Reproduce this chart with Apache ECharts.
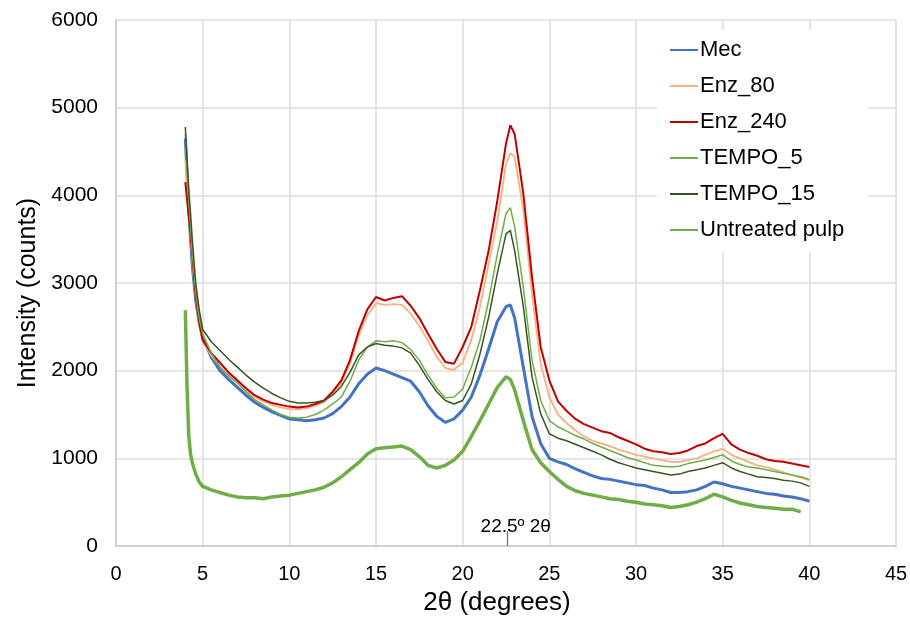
<!DOCTYPE html>
<html>
<head>
<meta charset="utf-8">
<script src="https://cdn.jsdelivr.net/npm/echarts@6/dist/echarts.min.js"></script>
<style>
  html, body { margin: 0; padding: 0; background: #fff; }
  #chart { width: 910px; height: 619px; }
</style>
</head>
<body>
<div id="chart"></div>
<script>
// 2θ positions (degrees)
var angles = [4.0, 4.1, 4.2, 4.3, 4.4, 4.6, 4.8,
  5.0, 5.5, 6.0, 6.5, 7.0, 7.5, 8.0, 8.5, 9.0, 9.5, 10.0, 10.5, 11.0, 11.5, 12.0, 12.5,
  13.0, 13.5, 14.0, 14.5, 15.0, 15.5, 16.0, 16.5, 17.0, 17.5, 18.0, 18.5, 19.0, 19.5,
  20.0, 20.5, 21.0, 21.5, 22.0, 22.5, 22.75, 23.0, 23.5, 24.0, 24.5, 25.0, 25.5, 26.0,
  26.5, 27.0, 27.5, 28.0, 28.5, 29.0, 29.5, 30.0, 30.5, 31.0, 31.5, 32.0, 32.5, 33.0,
  33.5, 34.0, 34.5, 35.0, 35.5, 36.0, 36.5, 37.0, 37.5, 38.0, 38.5, 39.0, 39.5, 40.0];

var mec = [4650, 4250, 3850, 3500, 3200, 2800, 2550,
  2380, 2150, 2000, 1900, 1810, 1720, 1640, 1580, 1530, 1490, 1450, 1440, 1430, 1440, 1460, 1510,
  1590, 1700, 1850, 1960, 2030, 2000, 1960, 1920, 1880, 1760, 1600, 1480, 1410, 1450,
  1550, 1700, 1950, 2250, 2560, 2730, 2750, 2600, 2040, 1480, 1170, 1000, 960, 930,
  880, 840, 800, 770, 760, 740, 720, 700, 690, 660, 640, 610, 610, 620,
  640, 680, 730, 710, 680, 660, 640, 620, 600, 590, 570, 560, 540, 510];

var enz80 = [4400, 4100, 3800, 3500, 3250, 2820, 2530,
  2330, 2170, 2050, 1950, 1860, 1770, 1700, 1650, 1610, 1580, 1560, 1560, 1570, 1600, 1640, 1730,
  1860, 2080, 2400, 2630, 2770, 2750, 2760, 2750, 2650, 2510, 2340, 2160, 2030, 2010,
  2090, 2350, 2730, 3220, 3710, 4360, 4480, 4440, 3830, 2880, 2080, 1700, 1500, 1400,
  1320, 1250, 1200, 1170, 1140, 1100, 1070, 1040, 1020, 1000, 980, 960, 960, 980,
  1000, 1040, 1080, 1110, 1040, 1000, 960, 920, 900, 870, 840, 810, 780, 750];

var enz240 = [4150, 3950, 3750, 3560, 3320, 2850, 2550,
  2350, 2200, 2090, 1980, 1890, 1800, 1720, 1670, 1630, 1610, 1590, 1580, 1590, 1620, 1660, 1760,
  1890, 2120, 2450, 2700, 2840, 2800, 2830, 2850, 2740, 2600, 2420, 2250, 2100, 2080,
  2270, 2500, 2920, 3370, 3940, 4590, 4800, 4700, 4020, 3070, 2270, 1890, 1650, 1540,
  1450, 1390, 1350, 1310, 1290, 1240, 1200, 1160, 1110, 1080, 1070, 1050, 1060, 1090,
  1140, 1170, 1230, 1280, 1160, 1100, 1060, 1030, 990, 970, 960, 940, 920, 900];

var tempo5 = [4700, 4300, 3950, 3650, 3350, 2900, 2600,
  2420, 2200, 2040, 1940, 1860, 1760, 1670, 1610, 1550, 1500, 1470, 1460, 1470, 1500, 1550, 1620,
  1700, 1880, 2120, 2270, 2340, 2330, 2340, 2320, 2240, 2120, 1950, 1800, 1690, 1700,
  1790, 2040, 2350, 2800, 3330, 3790, 3860, 3640, 2950, 2120, 1660, 1430, 1360, 1310,
  1260, 1220, 1170, 1130, 1090, 1050, 1010, 980, 950, 920, 910, 900, 910, 940,
  960, 980, 1010, 1040, 970, 930, 900, 890, 870, 850, 830, 810, 790, 760];

var tempo15 = [4780, 4400, 4050, 3800, 3500, 3000, 2700,
  2470, 2330, 2230, 2130, 2040, 1950, 1870, 1800, 1740, 1690, 1650, 1630, 1630, 1640, 1660, 1720,
  1820, 1980, 2180, 2270, 2310, 2290, 2280, 2260, 2200, 2060, 1900, 1760, 1660, 1620,
  1660, 1850, 2190, 2610, 3110, 3560, 3600, 3370, 2730, 1930, 1510, 1280, 1230, 1200,
  1160, 1120, 1080, 1040, 990, 950, 920, 890, 870, 850, 830, 810, 820, 850,
  870, 890, 920, 950, 890, 850, 820, 790, 780, 770, 750, 740, 720, 680];

var untreated = [2690, 1800, 1250, 1050, 950, 820, 730,
  680, 640, 610, 580, 560, 550, 550, 540, 560, 570, 580, 600, 620, 640, 670, 720,
  790, 870, 950, 1050, 1110, 1120, 1130, 1140, 1100, 1020, 920, 890, 920, 980,
  1080, 1250, 1430, 1620, 1810, 1930, 1900, 1780, 1430, 1100, 950, 850, 760, 680,
  630, 600, 580, 560, 540, 530, 510, 500, 480, 470, 460, 440, 450, 470,
  500, 540, 590, 560, 520, 490, 470, 450, 440, 430, 420, 420, 390, null];

var xTicks = [0, 5, 10, 15, 20, 25, 30, 35, 40, 45];
var yTicks = [0, 1000, 2000, 3000, 4000, 5000, 6000];

var seriesNames = ['Mec', 'Enz_80', 'Enz_240', 'TEMPO_5', 'TEMPO_15', 'Untreated pulp'];
var seriesColors = ['#4472C4', '#F4B183', '#C00000', '#70AD47', '#375623', '#70AD47'];
var seriesWidths = [3, 1.8, 2, 1.5, 1.5, 3.5];
var seriesValues = [mec, enz80, enz240, tempo5, tempo15, untreated];

function pairs(vals) {
  var out = [];
  for (var i = 0; i < angles.length; i++) {
    if (vals[i] != null) out.push([angles[i], vals[i]]);
  }
  return out;
}

var series = seriesNames.map(function (name, i) {
  return {
    name: name,
    type: 'line',
    data: pairs(seriesValues[i]),
    showSymbol: false,
    color: seriesColors[i],
    lineStyle: { width: seriesWidths[i], color: seriesColors[i] },
    z: 2 + i
  };
});

// marker at 22.5° on the x axis
series[0].markLine = {
  silent: true,
  symbol: 'none',
  lineStyle: { color: '#4472C4', width: 1.2, type: 'solid' },
  label: {
    show: true,
    position: 'end',
    formatter: '22.5º 2θ',
    color: '#000',
    fontSize: 19,
    fontFamily: 'Liberation Sans',
    distance: 0,
    offset: [8, 5]
  },
  data: [[{ coord: [22.6, 0] }, { coord: [22.6, 170] }]]
};

var chart = echarts.init(document.getElementById('chart'));
chart.setOption({
  animation: false,
  backgroundColor: '#fff',
  textStyle: { fontFamily: 'Liberation Sans' },
  grid: { left: 116, right: 14, top: 20, bottom: 73, containLabel: false, outerBoundsMode: 'none' },
  legend: {
    orient: 'vertical',
    left: 657,
    top: 30,
    data: seriesNames,
    icon: 'rect',
    itemWidth: 28,
    itemHeight: 2,
    itemGap: 14,
    padding: [9, 23, 11, 13],
    backgroundColor: '#fff',
    textStyle: { fontSize: 22, color: '#000', fontFamily: 'Liberation Sans', padding: [0, 0, 0, -3] }
  },
  xAxis: {
    type: 'value',
    min: xTicks[0],
    max: xTicks[xTicks.length - 1],
    interval: 5,
    name: '2θ (degrees)',
    nameLocation: 'middle',
    nameGap: 44,
    nameTextStyle: { fontSize: 26, color: '#000', padding: [0, 18, 0, 0] },
    axisLine: { show: true, lineStyle: { color: '#d0d0d0', width: 2 } },
    axisTick: { show: false },
    axisLabel: { fontSize: 20, color: '#000', margin: 18 },
    splitLine: { show: true, lineStyle: { color: '#dcdcdc', width: 1.5 } }
  },
  yAxis: {
    type: 'value',
    min: yTicks[0],
    max: yTicks[yTicks.length - 1],
    interval: 1000,
    name: 'Intensity (counts)',
    nameLocation: 'middle',
    nameGap: 66,
    nameTextStyle: { fontSize: 25, color: '#000', padding: [0, 20, 0, 0] },
    axisLine: { show: true, lineStyle: { color: '#d0d0d0', width: 2 } },
    axisTick: { show: false },
    axisLabel: {
      fontSize: 21, color: '#000', margin: 18,
      formatter: function (v) { return String(v); }
    },
    splitLine: { show: true, lineStyle: { color: '#dcdcdc', width: 1.5 } }
  },
  series: series
});
</script>
</body>
</html>
